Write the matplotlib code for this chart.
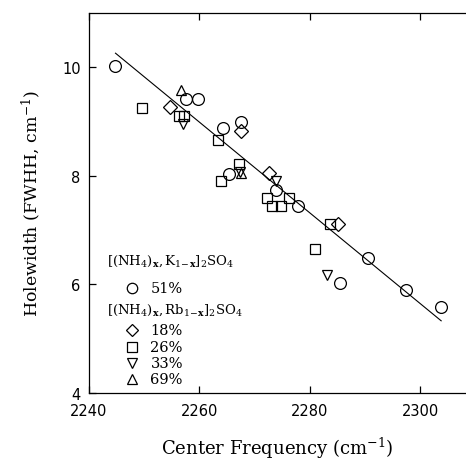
import matplotlib
matplotlib.use("Agg")
import matplotlib.pyplot as plt

plt.rcParams['mathtext.fontset'] = 'dejavuserif'

# K-salt, 51% ammonium
k51_freq = [2244.7, 2257.6, 2259.8, 2264.2, 2267.5, 2265.4, 2273.8, 2277.9, 2290.5, 2285.4, 2297.5, 2303.7]
k51_width = [10.02, 9.42, 9.42, 8.88, 8.99, 8.04, 7.74, 7.44, 6.48, 6.03, 5.89, 5.58]

# Rb-salt series
rb18_freq = [2254.7, 2267.5, 2272.7, 2285.2]
rb18_width = [9.26, 8.82, 8.06, 7.12]

rb26_freq = [2249.6, 2256.3, 2257.2, 2263.3, 2267.2, 2264.0, 2272.3, 2273.2, 2274.8, 2276.3, 2283.7, 2281.0]
rb26_width = [9.25, 9.11, 9.11, 8.66, 8.22, 7.90, 7.59, 7.44, 7.44, 7.59, 7.12, 6.65]

rb33_freq = [2257.1, 2267.4, 2273.9, 2283.2]
rb33_width = [8.95, 8.07, 7.90, 6.18]

rb69_freq = [2256.6, 2267.5]
rb69_width = [9.59, 8.05]

# linear fit drawn through the data
fit_freq = [2244.8, 2303.8]
fit_width = [10.26, 5.33]

fig = plt.figure(figsize=(4.66, 4.60), dpi=100)
ax = fig.add_axes([0.191, 0.1435, 0.809, 0.826])

ax.plot(fit_freq, fit_width, color='black', linewidth=0.8)

mk = dict(linestyle='none', markerfacecolor='none', markeredgecolor='black', markeredgewidth=0.9)
ax.plot(k51_freq, k51_width, marker='o', markersize=8.5, **mk)
ax.plot(rb18_freq, rb18_width, marker='D', markersize=7, **mk)
ax.plot(rb26_freq, rb26_width, marker='s', markersize=7, **mk)
ax.plot(rb33_freq, rb33_width, marker='v', markersize=7.5, **mk)
ax.plot(rb69_freq, rb69_width, marker='^', markersize=7.5, **mk)

# legend block drawn by hand (two headers with entries beneath)
serif = 'DejaVu Serif'
tf = ax.transAxes
ax.text(0.047, 0.35, r'$[(\mathrm{NH}_4)_\mathbf{x}\mathrm{,K}_{1\!-\!\mathbf{x}}]_2\mathrm{SO}_4$',
        transform=tf, fontsize=9.5, va='center', ha='left')
ax.text(0.047, 0.22, r'$[(\mathrm{NH}_4)_\mathbf{x}\mathrm{,Rb}_{1\!-\!\mathbf{x}}]_2\mathrm{SO}_4$',
        transform=tf, fontsize=9.5, va='center', ha='left')
entries = [('o', '51%', 0.277, 7.5), ('D', '18%', 0.166, 6.5), ('s', '26%', 0.120, 6.5),
           ('v', '33%', 0.078, 7), ('^', '69%', 0.036, 7)]
for m, lab, yy, ms in entries:
    ax.plot([0.113], [yy], marker=m, markersize=ms, transform=tf, clip_on=False, **mk)
    ax.text(0.163, yy, lab, transform=tf, fontsize=10.5, family=serif, va='center', ha='left')

ax.set_xlim(2240, 2308.3)
ax.set_ylim(4, 11)
ax.set_xticks([2240, 2260, 2280, 2300])
ax.set_yticks([4, 6, 8, 10])
ax.spines['right'].set_visible(False)
for s in ['left', 'bottom', 'top']:
    ax.spines[s].set_linewidth(0.9)
ax.tick_params(direction='in', length=5, width=0.9, labelsize=10.5, top=True, right=False)
ax.tick_params(axis='x', pad=7)
ax.tick_params(axis='y', pad=6)

ax.set_xlabel(r'Center Frequency (cm$^{-1}$)', family=serif, fontsize=13, labelpad=12)
ax.set_ylabel(r'Holewidth (FWHH, cm$^{-1}$)', family=serif, fontsize=12.5, labelpad=14)

plt.savefig("out.png", dpi=100)
